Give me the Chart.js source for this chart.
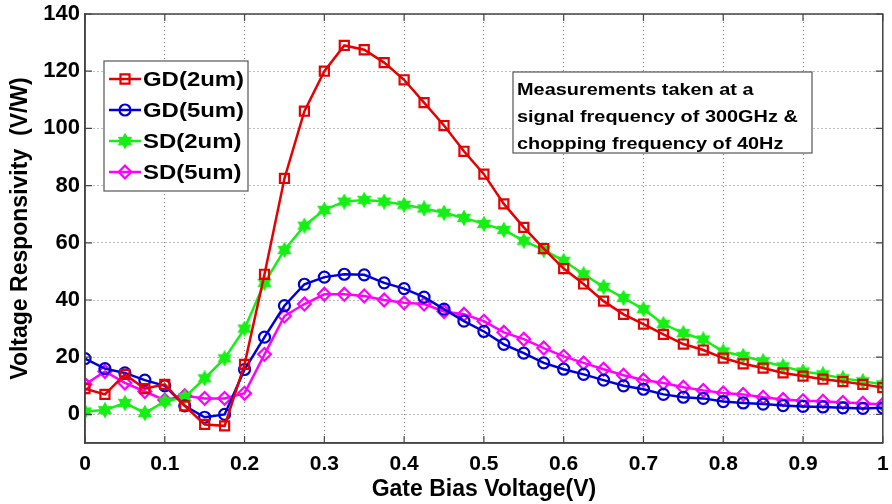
<!DOCTYPE html>
<html>
<head>
<meta charset="utf-8">
<title>Voltage Responsivity vs Gate Bias</title>
<script src="https://cdn.jsdelivr.net/npm/chart.js@4.4.1/dist/chart.umd.min.js"></script>
<style>
  html, body { margin: 0; padding: 0; background: #fff; }
  #wrap { width: 892px; height: 504px; }
</style>
</head>
<body>
<div id="wrap"><canvas id="chart" width="892" height="504"></canvas></div>
<script>
// ゲートバイアス電圧 (V)
const gateBias = [
  0, 0.025, 0.05, 0.075, 0.1, 0.125, 0.15, 0.175, 0.2, 0.225,
  0.25, 0.275, 0.3, 0.325, 0.35, 0.375, 0.4, 0.425, 0.45, 0.475,
  0.5, 0.525, 0.55, 0.575, 0.6, 0.625, 0.65, 0.675, 0.7, 0.725,
  0.75, 0.775, 0.8, 0.825, 0.85, 0.875, 0.9, 0.925, 0.95, 0.975, 1
];

// 電圧応答度 (V/W)
const gd2um = [
  9, 7, 14, 9, 10.5, 3, -3.5, -4, 17.5, 49,
  82.5, 106, 120, 129, 127.5, 123, 117, 109, 101, 92,
  84, 73.6, 65.4, 58, 51, 45.6, 39.6, 35, 31.6, 28,
  24.6, 22.5, 19.7, 17.7, 16.2, 14.5, 13.4, 12.3, 11.5, 10.5, 9.4
];
const gd5um = [
  19.5, 16, 14.5, 12, 10, 3, -1, 0, 15.7, 27,
  38, 45.5, 48, 49, 48.8, 46, 44, 41, 36.8, 32.6,
  29, 24.5, 21.4, 18, 15.8, 14, 12, 10, 8.8, 7,
  6, 5.6, 4.5, 4, 3.6, 3.1, 2.8, 2.6, 2.3, 2.1, 2.3
];
const sd2um = [
  1, 1.5, 4, 0.5, 4.5, 6, 12.6, 19.6, 30, 46,
  57.5, 66, 71.5, 74.4, 75, 74.4, 73.3, 72, 70.5, 68.7,
  66.6, 64.5, 60.7, 57.5, 53.7, 49, 44.6, 40.7, 36.8, 31.6,
  28.4, 26.2, 22, 20.4, 18.6, 16.8, 15, 14, 12.6, 11.6, 10.5
];
const sd5um = [
  10.5, 15, 11, 8, 5, 6.5, 5.6, 5.6, 7.4, 21,
  34.4, 38.6, 42, 42, 41.4, 40, 39, 38.6, 36, 35,
  32.6, 28.7, 26.3, 23.2, 20.3, 18, 15.8, 13.7, 12, 11,
  9.5, 8.4, 7.5, 7, 6, 5.2, 4.8, 4.6, 4.2, 3.9, 3.5
];

const seriesLabels = ["GD(2um)", "GD(5um)", "SD(2um)", "SD(5um)"];
const seriesColors = ["#e60000", "#0000d6", "#14f014", "#ff00ff"];

const yTicks = [0, 20, 40, 60, 80, 100, 120, 140];
const noteLines = [
  "Measurements taken at a",
  "signal frequency of 300GHz &",
  "chopping frequency of 40Hz",
];

const FONT = '"Liberation Sans", Arial, Helvetica, sans-serif';

// 塗りつぶし六芒星マーカー
function makeHexagram(color) {
  const c = document.createElement("canvas");
  c.width = 16;
  c.height = 16;
  const g = c.getContext("2d");
  g.fillStyle = color;
  g.strokeStyle = color;
  g.lineWidth = 1;
  g.beginPath();
  for (let k = 0; k < 12; k++) {
    const r = k % 2 === 0 ? 7.5 : 4.2;
    const a = -Math.PI / 2 + (k * Math.PI) / 6;
    const px = 8 + r * Math.cos(a);
    const py = 8 + r * Math.sin(a);
    if (k === 0) g.moveTo(px, py);
    else g.lineTo(px, py);
  }
  g.closePath();
  g.fill();
  g.stroke();
  return c;
}

const markerStyles = [
  { pointStyle: "rect", pointRadius: 6.4 },
  { pointStyle: "circle", pointRadius: 5.5 },
  { pointStyle: makeHexagram(seriesColors[2]), pointRadius: 7 },
  { pointStyle: "rectRot", pointRadius: 6.4 },
];

function toPoints(values) {
  return values.map((v, i) => ({ x: gateBias[i], y: v }));
}

const seriesValues = [gd2um, gd5um, sd2um, sd5um];
const datasets = seriesValues.map((vals, i) => ({
  label: seriesLabels[i],
  data: toPoints(vals),
  borderColor: seriesColors[i],
  backgroundColor: "rgba(0,0,0,0)",
  borderWidth: 2.5,
  pointStyle: markerStyles[i].pointStyle,
  pointRadius: markerStyles[i].pointRadius,
  pointBorderWidth: 2.2,
  pointBorderColor: seriesColors[i],
  pointBackgroundColor: "rgba(0,0,0,0)",
  tension: 0,
}));

// 軸の枠線と内向きの目盛り
const axesBox = {
  id: "axesBox",
  afterDatasetsDraw(chart) {
    const { ctx, chartArea: a, scales } = chart;
    ctx.save();
    ctx.strokeStyle = "#444";
    ctx.lineWidth = 1.2;
    const len = 7;
    scales.x.ticks.forEach((t) => {
      const px = scales.x.getPixelForValue(t.value);
      ctx.beginPath();
      ctx.moveTo(px, a.bottom);
      ctx.lineTo(px, a.bottom - len);
      ctx.moveTo(px, a.top);
      ctx.lineTo(px, a.top + len);
      ctx.stroke();
    });
    yTicks.forEach((v) => {
      const py = scales.y.getPixelForValue(v);
      ctx.beginPath();
      ctx.moveTo(a.left, py);
      ctx.lineTo(a.left + len, py);
      ctx.moveTo(a.right, py);
      ctx.lineTo(a.right - len, py);
      ctx.stroke();
    });
    ctx.lineWidth = 1.5;
    ctx.strokeRect(a.left, a.top, a.right - a.left, a.bottom - a.top);
    ctx.restore();
  },
};

// 凡例と注記ボックス
const legendAndNote = {
  id: "legendAndNote",
  afterDraw(chart) {
    const { ctx } = chart;
    ctx.save();

    // 凡例
    const lx = 104, ly = 61, lw = 144, lh = 130;
    ctx.fillStyle = "#fff";
    ctx.fillRect(lx, ly, lw, lh);
    ctx.strokeStyle = "#555";
    ctx.lineWidth = 1.2;
    ctx.strokeRect(lx, ly, lw, lh);

    chart.data.datasets.forEach((ds, i) => {
      const cy = 79 + i * 31;
      ctx.strokeStyle = ds.borderColor;
      ctx.lineWidth = ds.borderWidth;
      ctx.beginPath();
      ctx.moveTo(109, cy);
      ctx.lineTo(141, cy);
      ctx.stroke();
      ctx.fillStyle = "rgba(0,0,0,0)";
      ctx.lineWidth = ds.pointBorderWidth;
      if (Chart.helpers && Chart.helpers.drawPoint) {
        Chart.helpers.drawPoint(ctx, {
          pointStyle: ds.pointStyle,
          radius: ds.pointRadius,
          rotation: 0,
          borderWidth: ds.pointBorderWidth,
        }, 125, cy);
      }
      ctx.save();
      ctx.translate(143, cy);
      ctx.scale(1.14, 1);
      ctx.fillStyle = "#000";
      ctx.font = "bold 21px " + FONT;
      ctx.textBaseline = "middle";
      ctx.textAlign = "left";
      ctx.fillText(ds.label, 0, 1);
      ctx.restore();
    });

    // 測定条件の注記
    const nx = 513, ny = 72, nw = 299, nh = 81;
    ctx.fillStyle = "#fff";
    ctx.fillRect(nx, ny, nw, nh);
    ctx.strokeStyle = "#555";
    ctx.lineWidth = 1.2;
    ctx.strokeRect(nx, ny, nw, nh);
    noteLines.forEach((line, i) => {
      ctx.save();
      ctx.translate(517, 95 + i * 27);
      ctx.scale(1.17, 1);
      ctx.fillStyle = "#000";
      ctx.font = "bold 17px " + FONT;
      ctx.textBaseline = "alphabetic";
      ctx.textAlign = "left";
      ctx.fillText(line, 0, 0);
      ctx.restore();
    });

    ctx.restore();
  },
};

const gridDash = {
  color: (c) => (c.tick && c.tick.value < 0 ? "rgba(0,0,0,0)" : "#7a7a7a"),
  lineWidth: 1,
  drawTicks: false,
};

const ctx = document.getElementById("chart").getContext("2d");
const chart = new Chart(ctx, {
  type: "line",
  data: { datasets: datasets },
  options: {
    responsive: false,
    animation: false,
    layout: { padding: { top: 14, right: 7, left: 0, bottom: 0 } },
    plugins: {
      legend: { display: false },
      tooltip: { enabled: false },
    },
    scales: {
      x: {
        type: "linear",
        min: 0,
        max: 1,
        border: { display: true, color: "#444", width: 1.5, dash: [1, 3] },
        grid: gridDash,
        ticks: {
          stepSize: 0.1,
          color: "#000",
          padding: 9,
          maxRotation: 0,
          font: { family: FONT, size: 21, weight: "bold" },
          callback: (v) => String(Math.round(v * 10) / 10),
        },
        title: {
          display: true,
          text: "Gate Bias Voltage(V)",
          color: "#000",
          font: { family: FONT, size: 23, weight: "bold" },
          padding: { top: 0, bottom: 1 },
        },
        afterFit: (scale) => {
          scale.height = 61;
          scale.paddingLeft = 0;
          scale.paddingRight = 0;
        },
      },
      y: {
        min: -10,
        max: 140,
        border: { display: true, color: "#444", width: 1.5, dash: [1, 3] },
        grid: gridDash,
        afterBuildTicks: (scale) => {
          scale.ticks = yTicks.map((v) => ({ value: v }));
        },
        ticks: {
          color: "#000",
          padding: 5,
          font: { family: FONT, size: 22, weight: "bold" },
        },
        title: {
          display: true,
          text: "Voltage Responsivity  (V/W)",
          color: "#000",
          font: { family: FONT, size: 23, weight: "bold" },
          padding: { top: 7, bottom: 0 },
        },
        afterFit: (scale) => {
          scale.width = 85;
          scale.paddingTop = 0;
          scale.paddingBottom = 0;
        },
      },
    },
  },
  plugins: [axesBox, legendAndNote],
});
</script>
</body>
</html>
